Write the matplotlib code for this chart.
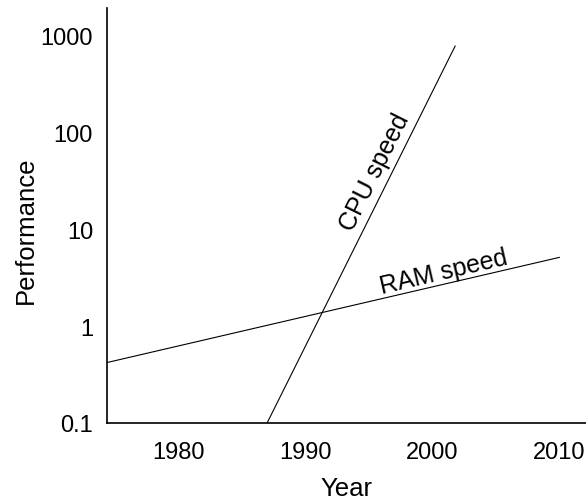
import matplotlib.pyplot as plt

plt.rcParams["font.family"] = ["Liberation Sans", "DejaVu Sans"]

# Straight-line trends on a log scale (endpoints only)
ram_years = [1974.4, 2010.0]
ram_perf = [0.42, 5.1]
cpu_years = [1987.0, 2001.8]
cpu_perf = [0.1, 770]

year_ticks = [1980, 1990, 2000, 2010]
perf_ticks = [0.1, 1, 10, 100, 1000]
perf_labels = ["0.1", "1", "10", "100", "1000"]

fig = plt.figure(figsize=(5.86, 5.02), dpi=100)
ax = fig.add_axes([0.1826, 0.1554, 0.8174, 0.8266])

ax.plot(ram_years, ram_perf, color="black", linewidth=0.8)
ax.plot(cpu_years, cpu_perf, color="black", linewidth=0.8)

ax.set_yscale("log")
ax.set_xlim(1974.4, 2012.1)
ax.set_ylim(0.1, 1900)

ax.set_yticks(perf_ticks)
ax.set_yticklabels(perf_labels)
ax.minorticks_off()
ax.set_xticks(year_ticks)
ax.set_xticklabels([str(y) for y in year_ticks])
ax.tick_params(axis="both", length=0, labelsize=17)
ax.tick_params(axis="x", pad=13)
ax.tick_params(axis="y", pad=10)

for side in ("top", "right"):
    ax.spines[side].set_visible(False)
for side in ("left", "bottom"):
    ax.spines[side].set_linewidth(1.2)

ax.set_xlabel("Year", fontsize=18.5)
ax.set_ylabel("Performance", fontsize=18.5)
ax.xaxis.set_label_coords(0.5, -0.128)
ax.yaxis.set_label_coords(-0.145, 0.467)

ax.text(1995.5, 38.7, "CPU speed", rotation=63.5, fontsize=18,
        ha="center", va="center", rotation_mode="anchor")
ax.text(2000.9, 3.69, "RAM speed", rotation=13.2, fontsize=18,
        ha="center", va="center", rotation_mode="anchor")

fig.savefig("out.png", dpi=100)
